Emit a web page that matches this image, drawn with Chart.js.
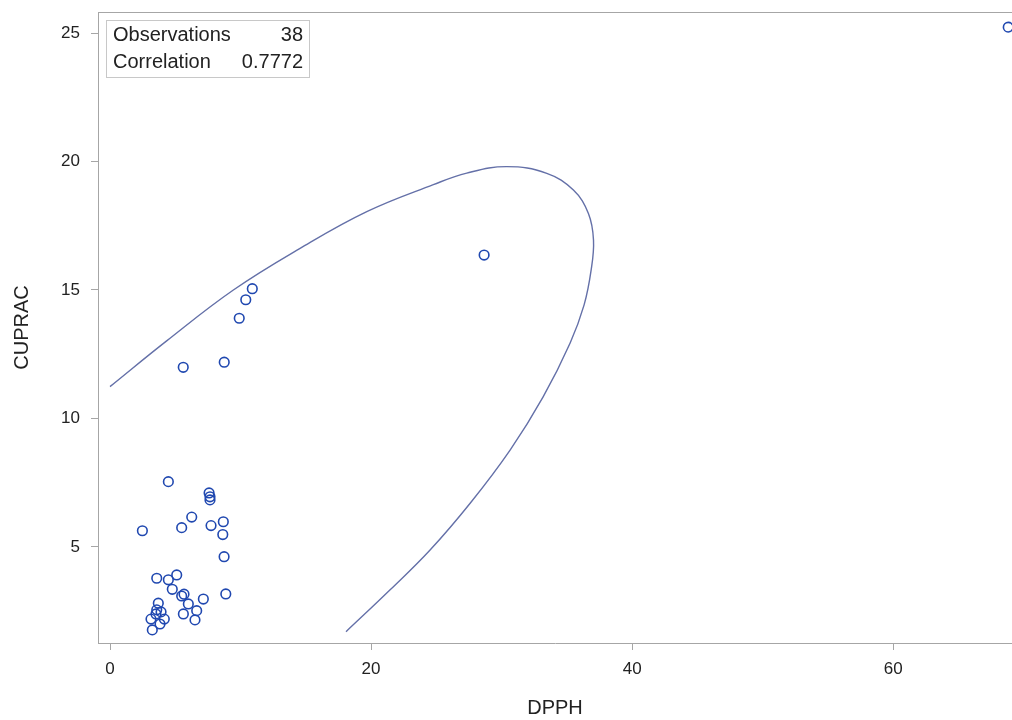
<!DOCTYPE html>
<html>
<head>
<meta charset="utf-8">
<script src="https://cdn.jsdelivr.net/npm/chart.js@4"></script>
<style>
  html, body { margin: 0; padding: 0; background: #fff; overflow: hidden; }
  #wrap { width: 1012px; height: 720px; }
</style>
</head>
<body>
<div id="wrap"><canvas id="chart"></canvas></div>
<script>
// observations
const dpph = [68.81, 28.66, 10.90, 10.40, 9.90, 8.75, 5.61, 4.47, 7.59, 7.66,
              7.66, 6.26, 5.49, 2.48, 7.74, 8.68, 8.64, 8.74, 3.58, 4.47,
              5.11, 4.77, 5.49, 5.67, 6.00, 7.15, 8.87, 5.62, 6.64, 6.51,
              3.70, 3.58, 3.52, 4.16, 3.83, 3.14, 3.24, 3.91];
const cuprac = [25.23, 16.36, 15.05, 14.62, 13.90, 12.19, 11.99, 7.54, 7.10, 6.95,
                6.83, 6.16, 5.75, 5.63, 5.83, 5.98, 5.48, 4.62, 3.78, 3.72,
                3.91, 3.35, 3.09, 3.16, 2.78, 2.97, 3.17, 2.39, 2.52, 2.16,
                2.81, 2.55, 2.39, 2.19, 2.00, 2.19, 1.77, 2.47];

// prediction ellipse
const ellipseX = [0.0, 4.34, 9.45, 14.56, 19.67, 24.77, 27.33, 30.40, 33.46, 35.50,
                  36.65, 37.04, 36.86, 36.32, 35.25, 33.18, 30.65, 27.59, 24.52, 21.46,
                  18.08];
const ellipseY = [11.24, 13.02, 15.00, 16.62, 18.05, 19.10, 19.55, 19.80, 19.54, 18.89,
                  17.98, 16.94, 15.78, 14.42, 12.94, 10.84, 8.77, 6.70, 4.88, 3.33,
                  1.70];

const xTicks = [0, 20, 40, 60];
const yTicks = [5, 10, 15, 20, 25];
const statLabels = ['Observations', 'Correlation'];
const statValues = ['38', '0.7772'];

const frameColor = '#a6a6a6';
const fontFamily = "'Liberation Sans', Arial, sans-serif";

const points = dpph.map((x, i) => ({ x: x, y: cuprac[i] }));
const ellipse = ellipseX.map((x, i) => ({ x: x, y: ellipseY[i] }));

// top frame line and the stats inset
const framePlugin = {
  id: 'frame',
  afterDraw(chart) {
    const ctx = chart.ctx;
    const a = chart.chartArea;
    ctx.save();
    ctx.strokeStyle = frameColor;
    ctx.lineWidth = 1;
    ctx.beginPath();
    ctx.moveTo(a.left, a.top + 0.5);
    ctx.lineTo(a.right, a.top + 0.5);
    ctx.stroke();

    const bx = a.left + 8, by = a.top + 8, bw = 203, bh = 57;
    ctx.strokeStyle = '#c8c8c8';
    ctx.strokeRect(bx + 0.5, by + 0.5, bw, bh);
    ctx.fillStyle = '#222';
    ctx.font = '20px ' + fontFamily;
    ctx.textBaseline = 'middle';
    statLabels.forEach((t, i) => {
      const y = by + 15 + i * 27;
      ctx.textAlign = 'left';
      ctx.fillText(t, bx + 7, y);
      ctx.textAlign = 'right';
      ctx.fillText(statValues[i], bx + bw - 6, y);
    });
    ctx.restore();
  }
};

Chart.defaults.font.family = fontFamily;
Chart.defaults.color = '#222';

new Chart(document.getElementById('chart'), {
  type: 'scatter',
  data: {
    datasets: [{
      label: 'CUPRAC',
      data: points,
      showLine: false,
      pointStyle: 'circle',
      pointRadius: 4.8,
      pointBorderWidth: 1.6,
      pointBackgroundColor: 'rgba(0,0,0,0)',
      pointBorderColor: '#2048b0',
      order: 1
    }, {
      label: 'Ellipse',
      data: ellipse,
      showLine: true,
      fill: false,
      tension: 0.4,
      borderColor: '#6470a8',
      borderWidth: 1.4,
      pointRadius: 0,
      order: 2
    }]
  },
  options: {
    responsive: true,
    maintainAspectRatio: false,
    animation: false,
    layout: { autoPadding: false, padding: { top: 12, right: 0, left: 0, bottom: 0 } },
    plugins: {
      legend: { display: false },
      tooltip: { enabled: false }
    },
    scales: {
      x: {
        type: 'linear',
        min: -0.92,
        max: 69.1,
        afterBuildTicks: scale => { scale.ticks = xTicks.map(v => ({ value: v })); },
        afterFit: scale => { scale.height = 77; scale.paddingLeft = 0; scale.paddingRight = 0; },
        grid: { drawOnChartArea: false, drawTicks: true, tickLength: 7, color: frameColor },
        border: { display: true, color: frameColor },
        ticks: { font: { size: 17 }, padding: 9, maxRotation: 0 },
        title: { display: true, text: 'DPPH', font: { size: 20 }, padding: { top: 4, bottom: 0 } }
      },
      y: {
        type: 'linear',
        min: 1.26,
        max: 25.82,
        afterBuildTicks: scale => { scale.ticks = yTicks.map(v => ({ value: v })); },
        afterFit: scale => { scale.width = 98; scale.paddingTop = 0; scale.paddingBottom = 0; },
        grid: { drawOnChartArea: false, drawTicks: true, tickLength: 7, color: frameColor },
        border: { display: true, color: frameColor },
        ticks: { font: { size: 17 }, padding: 11 },
        title: { display: true, text: 'CUPRAC', font: { size: 20 }, padding: { top: 10, bottom: 4 } }
      }
    }
  },
  plugins: [framePlugin]
});
</script>
</body>
</html>
